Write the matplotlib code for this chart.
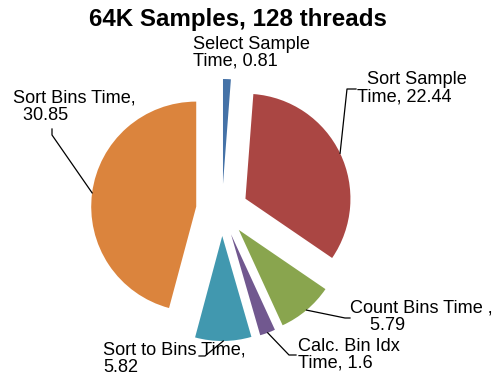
#!/usr/bin/env python3
"""Pie chart: tiempos por etapa, 64K samples con 128 threads."""
import math

import matplotlib
matplotlib.use("Agg")
import matplotlib.pyplot as plt

CATEGORIES = ["Select Sample Time", "Sort Sample Time", "Count Bins Time ",
              "Calc. Bin Idx Time", "Sort to Bins Time", "Sort Bins Time"]
VALUES = [0.81, 22.44, 5.79, 1.6, 5.82, 30.85]
COLORS = ["#4572A7", "#AA4643", "#89A54E", "#71588F", "#4198AF", "#DB843D"]

W, H = 497, 375          # figura en pixeles; el eje usa las mismas unidades
CENTER = (222, H - 210)
RADIUS = 105
EXPLODE = 26             # en unidades de datos (matplotlib no lo escala por el radio)

# como se parte cada etiqueta en dos lineas (Excel las partia asi)
WRAP = [
    ("Select Sample", "Time, {}"),
    ("  Sort Sample", "Time, {}"),
    ("Count Bins Time ,", "    {}"),
    ("Calc. Bin Idx", "Time, {}"),
    ("Sort to Bins Time,", "{}"),
    ("Sort Bins Time,", "  {}"),
]
# (x izq, baseline de la ultima linea) en pixeles, y el codo de la linea guia
LABEL_POS = [(193, 66), (357, 101), (350, 330), (298, 368), (103, 372), (13, 120)]
ELBOWS = [None,
          [(347, 89), (356, 89)],
          [(345, 318), (350, 318)],
          [(289, 355), (296, 355)],
          [(205, 356), (199, 356)],
          [(52, 135), (52, 129)]]

plt.rcParams["font.family"] = ["Liberation Sans", "DejaVu Sans"]

fig = plt.figure(figsize=(W / 100, H / 100), dpi=100)
ax = fig.add_axes([0, 0, 1, 1])
wedges, _ = ax.pie(VALUES, colors=COLORS, startangle=90, counterclock=False,
                   explode=[EXPLODE] * len(VALUES), radius=RADIUS, center=CENTER,
                   wedgeprops=dict(linewidth=0))
ax.set_xlim(0, W)
ax.set_ylim(0, H)
ax.set_aspect("equal")
ax.axis("off")

for i, w in enumerate(wedges):
    l1, l2 = WRAP[i]
    txt = l1 + "\n" + l2.format(f"{VALUES[i]:g}")
    x, y = LABEL_POS[i]
    ax.text(x, H - y, txt, ha="left", va="baseline", fontsize=13.1,
            linespacing=1.02)
    if ELBOWS[i] is None:
        continue
    # la linea guia sale del punto medio del arco de cada porcion
    tm = math.radians((w.theta1 + w.theta2) / 2)
    cx, cy = w.center
    px = [cx + w.r * math.cos(tm)] + [e[0] for e in ELBOWS[i]]
    py = [cy + w.r * math.sin(tm)] + [H - e[1] for e in ELBOWS[i]]
    ax.plot(px, py, color="black", lw=0.9)

ax.text(238, H - 26, "64K Samples, 128 threads", ha="center", va="baseline",
        fontsize=17.4, fontweight="bold")

fig.savefig("out.png", dpi=100)
